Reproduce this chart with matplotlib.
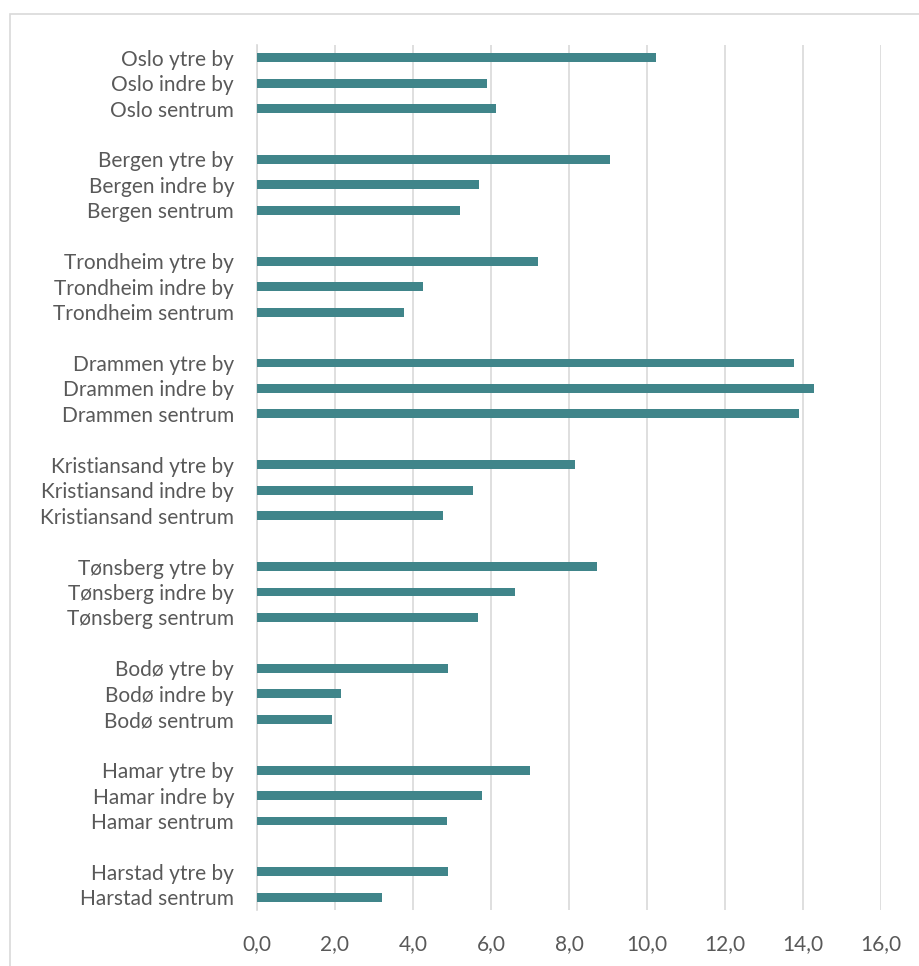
import numpy as np
import matplotlib.pyplot as plt
from matplotlib.patches import Rectangle

# Values per city, ordered top to bottom in the chart
cities = ["Oslo", "Bergen", "Trondheim", "Drammen", "Kristiansand",
          "Tønsberg", "Bodø", "Hamar", "Harstad"]
zones = ["ytre by", "indre by", "sentrum"]

ytre_by = [10.23, 9.04, 7.20, 13.77, 8.16, 8.72, 4.90, 6.99, 4.90]
indre_by = [5.91, 5.68, 4.25, 14.28, 5.53, 6.62, 2.15, 5.77, None]
sentrum = [6.12, 5.21, 3.78, 13.90, 4.78, 5.67, 1.92, 4.87, 3.21]

x_ticks = np.arange(0, 17, 2)

bar_color = "#40858A"
grid_color = "#D9D9D9"
text_color = "#595959"

plt.rcParams["font.family"] = ["Lato", "DejaVu Sans"]

# Build the rows, leaving an empty slot between city groups
labels, values = [], []
for i, city in enumerate(cities):
    for zone, series in zip(zones, (ytre_by, indre_by, sentrum)):
        if series[i] is None:
            continue
        labels.append(f"{city} {zone}")
        values.append(series[i])
    if i < len(cities) - 1:
        labels.append("")
        values.append(np.nan)

rows = np.arange(len(labels))

fig = plt.figure(figsize=(9.2, 9.66), dpi=100)
ax = fig.add_axes([257 / 920, 1 - 910 / 966, 624 / 920, 865 / 966])

ax.barh(rows, values, height=0.35, color=bar_color, zorder=3)

ax.set_ylim(len(labels) - 0.5, -0.5)
ax.set_xlim(0, 16)
ax.set_xticks(x_ticks)
ax.set_xticklabels([f"{t:.1f}".replace(".", ",") for t in x_ticks])

tick_rows = [r for r, lab in zip(rows, labels) if lab]
ax.set_yticks(tick_rows)
ax.set_yticklabels([lab for lab in labels if lab])

ax.tick_params(axis="both", length=0, labelsize=15, colors=text_color)
ax.tick_params(axis="x", pad=17)
ax.tick_params(axis="y", pad=16.5)

ax.grid(axis="x", color=grid_color, linewidth=1.2, zorder=0)
for side in ("top", "right", "bottom"):
    ax.spines[side].set_visible(False)
ax.spines["left"].set_color(grid_color)
ax.spines["left"].set_linewidth(1.2)

# Chart frame
fig.add_artist(Rectangle((10 / 920, -0.1), 1.2, 1 - 14 / 966 + 0.1,
                         transform=fig.transFigure, fill=False,
                         edgecolor=grid_color, linewidth=1.2))

fig.savefig("out.png", dpi=100)
